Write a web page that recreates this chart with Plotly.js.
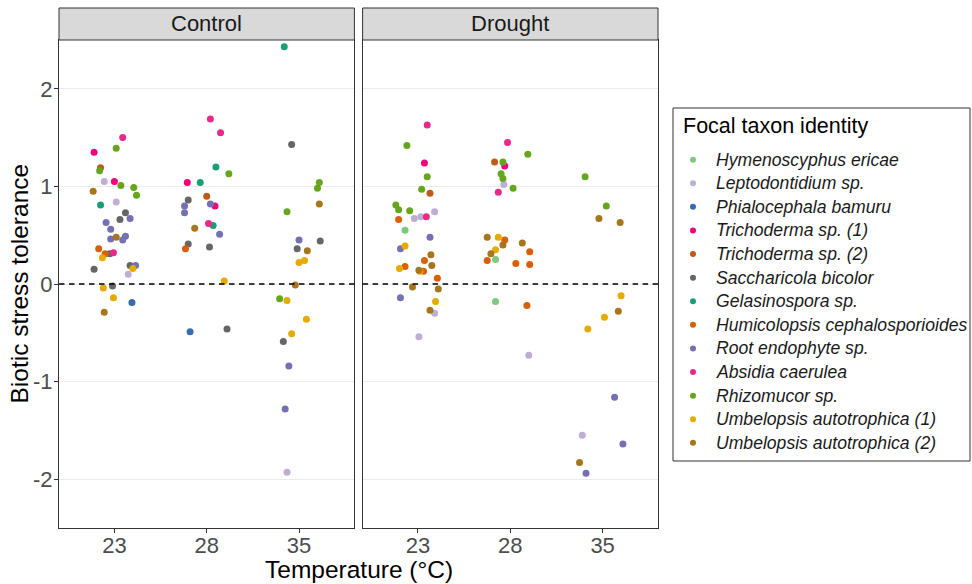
<!DOCTYPE html>
<html>
<head>
<meta charset="utf-8">
<script src="https://cdn.plot.ly/plotly-3.0.1.min.js"></script>
<style>html,body{margin:0;padding:0;background:#fff;}#chart{width:972px;height:584px;}</style>
</head>
<body>
<div id="chart"></div>
<script>
// Taxa (legend order), codes and colours
const taxonCodes = ["HE","LE","PB","T1","T2","SB","GS","HC","RE","AC","RM","U1","U2"];
const taxonNames = ["Hymenoscyphus ericae","Leptodontidium sp.","Phialocephala bamuru","Trichoderma sp. (1)","Trichoderma sp. (2)","Saccharicola bicolor","Gelasinospora sp.","Humicolopsis cephalosporioides","Root endophyte sp.","Absidia caerulea","Rhizomucor sp.","Umbelopsis autotrophica (1)","Umbelopsis autotrophica (2)"];
const taxonColors = ["#7FC97F","#BEAED4","#386CB0","#F0027F","#BF5B17","#666666","#1B9E77","#D95F02","#7570B3","#E7298A","#66A61E","#E6AB02","#A6761D"];
const legendTitle = "Focal taxon identity";

// Temperature categories (x positions 1,2,3), y ticks and facets
const tempLabels = ["23","28","35"];
const yTickVals = [-2,-1,0,1,2];
const yTickText = ["-2","-1","0","1","2"];
const facetLabels = ["Control","Drought"];

// Control panel: taxon, jittered x (category units), biotic stress tolerance
const ctrlTaxon = ["AC","RM","T1","T2","RM","LE","T1","RM","RM","U2","RM","LE","GS","SB","SB","RE","RE","RE","RE","U2","RE","RE","HC","HC","SB","AC","U1","SB","SB","RE","U1","LE","U1","SB","U1","PB","U2",
  "AC","AC","GS","RM","T1","GS","SB","T2","RE","T1","RE","RE","AC","GS","U2","RE","SB","SB","HC","U1","PB","SB",
  "GS","SB","RM","RM","U2","RM","RE","SB","SB","U2","U1","U1","U2","RM","U1","U1","U1","SB","RE","RE","LE"];
const ctrlX = [1.09,1.02,0.78,0.85,0.84,0.89,1.00,1.07,1.21,0.77,1.24,1.02,0.85,1.12,1.06,1.17,0.91,0.96,1.12,1.02,0.96,1.09,0.83,0.90,0.95,0.99,0.87,0.78,1.17,1.23,1.20,1.15,0.88,0.98,0.99,1.19,0.89,
  2.04,2.15,2.10,2.24,1.79,1.93,1.80,2.00,2.04,2.09,1.76,1.76,2.02,2.07,1.87,2.14,1.80,2.03,1.77,2.19,1.82,2.22,
  2.84,2.92,3.22,3.20,3.22,2.87,3.00,3.23,2.98,3.09,3.00,3.06,2.96,2.79,2.87,3.08,2.92,2.83,2.89,2.85,2.87];
const ctrlY = [1.50,1.39,1.35,1.19,1.16,1.05,1.05,1.01,0.99,0.95,0.91,0.84,0.81,0.73,0.66,0.67,0.63,0.56,0.49,0.48,0.46,0.45,0.36,0.31,0.31,0.32,0.27,0.15,0.19,0.19,0.16,0.10,-0.04,-0.02,-0.14,-0.19,-0.29,
  1.69,1.55,1.20,1.13,1.04,1.04,0.86,0.90,0.82,0.80,0.80,0.73,0.62,0.60,0.57,0.51,0.41,0.38,0.36,0.03,-0.49,-0.46,
  2.43,1.43,1.04,0.98,0.82,0.74,0.45,0.44,0.36,0.34,0.22,0.24,-0.01,-0.15,-0.17,-0.36,-0.51,-0.59,-0.84,-1.28,-1.93];

// Drought panel
const drTaxon = ["AC","RM","T1","RM","RM","T2","RM","RM","RM","LE","LE","AC","LE","HC","HE","RE","RE","U1","U2","HC","U2","U1","HC","U2","U1","HC","HC","U2","U2","RE","U1","U2","LE","LE",
  "AC","RM","T2","RM","T1","RM","RM","LE","RM","AC","U2","U1","HC","U2","U2","U1","U2","HC","HC","HE","HC","HC","HE","HC","LE",
  "RM","RM","U2","U2","U1","U2","U1","U1","RE","LE","RE","U2","RE"];
const drX = [1.10,0.88,1.07,1.10,1.04,1.13,0.76,0.79,0.91,0.96,1.03,1.09,1.18,0.79,0.86,1.13,0.81,0.86,1.14,1.07,1.15,0.80,0.86,1.01,1.02,1.06,1.21,0.94,1.22,0.81,1.19,1.13,1.18,1.01,
  1.97,2.19,1.83,1.92,1.94,1.90,1.92,1.93,2.03,1.87,1.75,1.87,1.94,1.92,2.13,1.84,1.79,2.21,1.75,1.84,2.06,2.21,1.84,2.18,2.20,
  2.81,3.04,2.96,3.19,3.20,3.17,3.02,2.84,3.13,2.78,3.22,2.75,2.82];
const drY = [1.63,1.42,1.24,1.10,0.97,0.93,0.81,0.76,0.75,0.67,0.69,0.69,0.74,0.66,0.55,0.48,0.36,0.39,0.30,0.24,0.19,0.16,0.18,0.14,0.13,0.13,0.06,-0.03,-0.05,-0.14,-0.18,-0.27,-0.30,-0.54,
  1.45,1.33,1.25,1.25,1.21,1.13,1.08,1.02,0.98,0.94,0.48,0.48,0.45,0.40,0.42,0.35,0.31,0.33,0.24,0.25,0.21,0.20,-0.18,-0.22,-0.73,
  1.10,0.80,0.67,0.63,-0.12,-0.28,-0.34,-0.46,-1.16,-1.55,-1.64,-1.83,-1.94];

const FONT = '"Liberation Sans", Arial, sans-serif';
const W = 972, H = 584;
const M = {l:59, r:2, t:40, b:56};
const PW = W - M.l - M.r, PH = H - M.t - M.b;
const px2x = p => (p - M.l) / PW;          // pixel -> paper x
const px2y = p => (H - M.b - p) / PH;      // pixel -> paper y

function pick(taxa, xs, ys, code) {
  const x = [], y = [];
  taxa.forEach((t, i) => { if (t === code) { x.push(xs[i]); y.push(ys[i]); } });
  return {x, y};
}

const traces = [];
taxonCodes.forEach((code, k) => {
  const c = pick(ctrlTaxon, ctrlX, ctrlY, code);
  const d = pick(drTaxon, drX, drY, code);
  traces.push({type:'scatter', mode:'markers', x:c.x, y:c.y, xaxis:'x', yaxis:'y', name: taxonNames[k],
    showlegend:false, marker:{color: taxonColors[k], size:7, line:{width:0}}, hoverinfo:'skip', cliponaxis:false});
  traces.push({type:'scatter', mode:'markers', x:d.x, y:d.y, xaxis:'x2', yaxis:'y2', name: taxonNames[k],
    showlegend:false, marker:{color: taxonColors[k], size:7, line:{width:0}}, hoverinfo:'skip', cliponaxis:false});
});

// Legend keys: one dot per taxon on a hidden axis pair (index = legend row)
const legendRows = taxonNames.map((n, i) => i);
traces.push({type:'scatter', mode:'markers', xaxis:'x3', yaxis:'y3', showlegend:false, hoverinfo:'skip',
  x: legendRows.map(() => 20), y: legendRows, marker:{color: taxonColors, size:6, line:{width:0}}, cliponaxis:false});

const xCommon = {range:[0.4,3.6], tickvals:[1,2,3], ticktext: tempLabels, showgrid:false, zeroline:false,
  showline:true, mirror:true, linecolor:'#333333', linewidth:1, ticks:'outside', ticklen:4, tickcolor:'#333333',
  ticklabelstandoff:-6, tickfont:{family:FONT, size:22, color:'#4D4D4D'}, fixedrange:true};
const yCommon = {range:[-2.5,2.5], tickvals:yTickVals, ticktext:yTickText, showgrid:true, gridcolor:'#EBEBEB', gridwidth:1, zeroline:false,
  showline:true, mirror:true, linecolor:'#333333', linewidth:1, fixedrange:true};

const shapes = [];
const annotations = [];
['x','x2'].forEach((ax, i) => {
  shapes.push({type:'rect', xref: ax + ' domain', yref:'paper', x0:0, x1:1, y0:px2y(40), y1:px2y(8),
    fillcolor:'#D9D9D9', line:{color:'#333333', width:1}, layer:'above'});
  shapes.push({type:'line', xref: ax + ' domain', yref: i === 0 ? 'y' : 'y2', x0:0, x1:1, y0:0, y1:0,
    line:{color:'#000000', width:1.3, dash:'5.5px,4.5px'}, layer:'above'});
  annotations.push({xref: ax + ' domain', yref:'paper', x:0.5, y:px2y(24), text: facetLabels[i],
    showarrow:false, font:{family:FONT, size:22, color:'#1A1A1A'}, xanchor:'center', yanchor:'middle'});
});
annotations.push({xref:'paper', yref:'paper', x:px2x(358.5), y:px2y(569), text:'Temperature (°C)', showarrow:false,
  font:{family:FONT, size:24.5, color:'#000000'}, xanchor:'center', yanchor:'middle'});
annotations.push({xref:'paper', yref:'paper', x:px2x(18.5), y:0.5, text:'Biotic stress tolerance', showarrow:false,
  textangle:-90, font:{family:FONT, size:24.5, color:'#000000'}, xanchor:'center', yanchor:'middle'});

// Legend box, title and labels
shapes.push({type:'rect', xref:'x3 domain', yref:'y3 domain', x0:0, x1:1, y0:0, y1:1,
  line:{color:'#333333', width:1}, fillcolor:'rgba(0,0,0,0)'});
annotations.push({xref:'x3', yref:'y3', x:8, y:-1.415, text: legendTitle, showarrow:false, xanchor:'left', yanchor:'middle',
  font:{family:FONT, size:21.5, color:'#000000'}});
taxonNames.forEach((n, i) => {
  annotations.push({xref:'x3', yref:'y3', x:41, y:legendRows[i], text:n, showarrow:false, xanchor:'left', yanchor:'middle',
    font:{family:FONT, size:17.6, color:'#1A1A1A', style:'italic'}});
});

const layout = {
  width:W, height:H,
  margin:{l:M.l, r:M.r, t:M.t, b:M.b, autoexpand:false},
  paper_bgcolor:'#FFFFFF', plot_bgcolor:'rgba(0,0,0,0)',
  font:{family:FONT},
  showlegend:false,
  xaxis: Object.assign({}, xCommon, {domain:[0, px2x(354.4)], anchor:'y'}),
  xaxis2: Object.assign({}, xCommon, {domain:[px2x(362.6), px2x(658)], anchor:'y2'}),
  yaxis: Object.assign({}, yCommon, {domain:[0,1], anchor:'x', ticks:'outside', ticklen:4, tickcolor:'#333333',
    ticklabelstandoff:-3, tickfont:{family:FONT, size:22, color:'#4D4D4D'}}),
  yaxis2: Object.assign({}, yCommon, {domain:[0,1], anchor:'x2', matches:'y', showticklabels:false, ticks:''}),
  xaxis3: {domain:[px2x(673), px2x(970)], range:[0,297], visible:false, fixedrange:true, anchor:'y3'},
  yaxis3: {domain:[px2y(461), px2y(108)], range:[12.77,-2.19], visible:false, fixedrange:true, anchor:'x3'},
  shapes: shapes,
  annotations: annotations
};

Plotly.newPlot('chart', traces, layout, {staticPlot:true, displayModeBar:false});
</script>
</body>
</html>
